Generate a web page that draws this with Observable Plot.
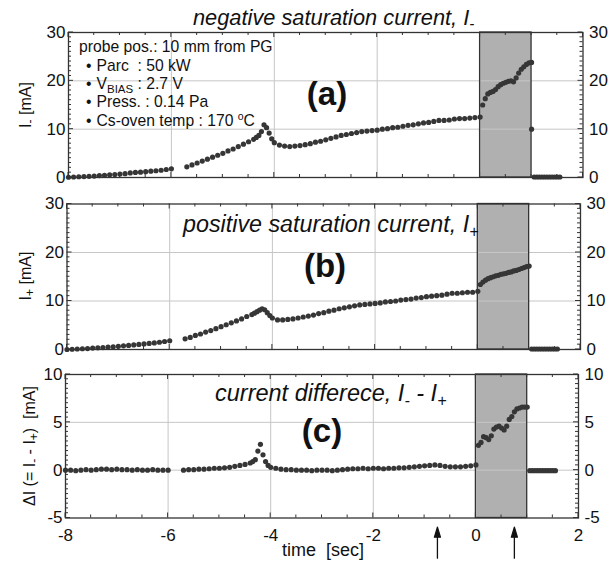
<!DOCTYPE html>
<html><head><meta charset="utf-8">
<script src="https://cdn.jsdelivr.net/npm/d3@7"></script>
<script src="https://cdn.jsdelivr.net/npm/@observablehq/plot@0.6"></script>
<style>
html,body{margin:0;padding:0;background:#fff;}
#chart{position:relative;width:612px;height:561px;overflow:hidden;font-family:"Liberation Sans",Arial,Helvetica,sans-serif;}
#chart svg.panel{position:absolute;left:0;}
#overlay{position:absolute;left:0;top:0;pointer-events:none;}
</style></head><body><div id="chart"></div>
<script>
// time [sec]
const time = [
 -8.0,-7.9,-7.8,-7.7,-7.6,-7.5,-7.4,-7.3,-7.2,-7.1,-7.0,-6.9,-6.8,-6.7,-6.6,-6.5,-6.4,-6.3,-6.2,-6.1,-6.0,
 -5.7,-5.6,-5.5,-5.4,-5.3,-5.2,-5.1,-5.0,-4.9,-4.8,-4.7,-4.6,-4.5,-4.4,-4.35,-4.3,-4.25,-4.2,-4.15,-4.1,-4.05,-4.0,
 -3.9,-3.8,-3.7,-3.6,-3.5,-3.4,-3.3,-3.2,-3.1,-3.0,-2.9,-2.8,-2.7,-2.6,-2.5,-2.4,-2.3,-2.2,-2.1,-2.0,
 -1.9,-1.8,-1.7,-1.6,-1.5,-1.4,-1.3,-1.2,-1.1,-1.0,-0.9,-0.8,-0.7,-0.6,-0.5,-0.4,-0.3,-0.2,-0.1,0.0,
 0.05,0.1,0.15,0.2,0.25,0.3,0.35,0.4,0.45,0.5,0.55,0.6,0.65,0.7,0.75,0.8,0.85,0.9,0.95,1.0,
 1.0,
 1.05,1.1,1.15,1.2,1.25,1.3,1.35,1.4,1.45,1.5,1.55
];
// negative saturation current I- [mA]
const iNeg = [
 0.05,0.1,0.15,0.2,0.25,0.3,0.4,0.45,0.55,0.6,0.7,0.8,0.95,1.05,1.1,1.2,1.3,1.4,1.5,1.65,1.8,
 2.2,2.6,3.0,3.4,3.8,4.2,4.6,5.0,5.5,5.9,6.4,6.9,7.4,7.9,8.3,8.7,9.5,10.9,10.3,9.2,8.0,7.2,
 6.7,6.5,6.4,6.5,6.6,6.8,7.0,7.3,7.5,7.8,8.1,8.4,8.7,8.9,9.1,9.3,9.5,9.6,9.7,9.8,
 10.0,10.1,10.3,10.4,10.6,10.8,10.9,11.1,11.3,11.4,11.6,11.8,11.8,11.9,12.1,12.2,12.2,12.3,12.4,12.5,
 15.0,16.3,17.3,17.6,17.8,18.2,18.8,19.2,19.5,19.7,19.9,20.0,19.8,20.6,21.6,22.4,22.9,23.4,23.7,23.8,
 10.0,
 0.1,0.1,0.1,0.1,0.1,0.1,0.1,0.1,0.1,0.1,0.1
];
// positive saturation current I+ [mA]
const iPos = [
 0.0,0.05,0.1,0.15,0.2,0.3,0.35,0.4,0.5,0.55,0.65,0.75,0.85,0.95,1.05,1.15,1.25,1.35,1.5,1.65,1.8,
 2.2,2.5,2.9,3.2,3.6,3.9,4.3,4.7,5.1,5.5,5.9,6.3,6.8,7.2,7.5,7.8,8.1,8.4,8.2,7.6,7.0,6.5,
 6.1,6.1,6.2,6.3,6.5,6.7,6.9,7.1,7.4,7.6,7.9,8.1,8.4,8.6,8.8,9.0,9.2,9.3,9.4,9.5,
 9.6,9.8,9.9,10.0,10.2,10.3,10.4,10.6,10.7,10.9,11.0,11.1,11.2,11.4,11.6,11.6,11.7,11.8,11.8,12.0,
 13.4,13.9,14.3,14.6,14.8,15.0,15.2,15.3,15.5,15.6,15.7,15.9,16.0,16.2,16.3,16.5,16.7,16.9,17.1,17.2,
 null,
 0.1,0.1,0.1,0.1,0.1,0.1,0.1,0.1,0.1,0.1,0.1
];
// current difference dI = I- - I+ [mA]
const dI = [
 0.0,0.0,-0.05,0.0,0.05,0.0,0.05,0.1,0.1,0.05,0.1,0.05,0.05,0.0,0.05,0.0,0.0,0.05,0.0,0.0,0.0,
 0.0,0.05,0.05,0.1,0.1,0.15,0.2,0.2,0.25,0.3,0.4,0.5,0.6,0.75,0.9,1.1,2.0,2.7,1.6,0.9,0.5,0.3,
 0.2,0.1,0.05,0.05,0.0,0.0,0.0,-0.05,0.0,0.0,0.0,-0.05,0.0,0.05,0.1,0.15,0.15,0.2,0.15,0.2,
 0.2,0.15,0.2,0.2,0.25,0.25,0.3,0.35,0.4,0.45,0.5,0.55,0.5,0.4,0.35,0.35,0.35,0.4,0.45,0.55,
 2.6,2.9,3.5,3.4,3.2,3.6,4.3,4.5,4.6,4.4,4.2,4.6,5.3,5.6,6.1,6.4,6.5,6.6,6.6,6.6,
 null,
 -0.05,-0.05,-0.05,-0.05,-0.05,-0.05,-0.05,-0.05,-0.05,-0.05,-0.05
];
const shadeInterval = [[0, 1]];
const arrowTimes = [-0.75, 0.75];
const xTicks = [-8, -6, -4, -2, 0, 2];
const yTicksI = [0, 10, 20, 30];
const yTicksD = [-5, 0, 5, 10];

const FONT = '"Liberation Sans", Arial, Helvetica, sans-serif';
const chart = document.getElementById("chart");

const solidArrow = {
  draw(ctx, l) {
    ctx.moveTo(0, 0); ctx.lineTo(0, -l + 8);
    ctx.moveTo(-3, -l + 10); ctx.lineTo(0, -l); ctx.lineTo(3, -l + 10); ctx.closePath();
  }
};

// inward tick marks on all four sides, drawn through the plot's own scales
function inwardTicks(xMinor, xMajor, yMinor, yMajor) {
  return (index, scales, values, dims) => {
    const {x, y} = scales;
    const left = dims.marginLeft, right = dims.width - dims.marginRight;
    const top = dims.marginTop, bottom = dims.height - dims.marginBottom;
    const g = d3.create("svg:g").attr("stroke", "#333").attr("stroke-width", 1);
    for (const t of xMinor) {
      const len = xMajor.includes(t) ? 5 : 3, px = x(t);
      g.append("line").attr("x1", px).attr("x2", px).attr("y1", bottom).attr("y2", bottom - len);
      g.append("line").attr("x1", px).attr("x2", px).attr("y1", top).attr("y2", top + len);
    }
    for (const v of yMinor) {
      const len = yMajor.includes(v) ? 5 : 3, py = y(v);
      g.append("line").attr("y1", py).attr("y2", py).attr("x1", left).attr("x2", left + len);
      g.append("line").attr("y1", py).attr("y2", py).attr("x1", right).attr("x2", right - len);
    }
    return g.node();
  };
}

function panel({values, yDomain, yTicks, yMinorStep, top, height, mt, mb, ml, mr, bottomLabels = false, extra = []}) {
  const data = time.map((t, i) => ({t, v: values[i]})).filter(d => d.v != null);
  const [y0, y1] = yDomain;
  const xMinor = d3.range(-8, 2.0001, 0.5).map(d => +d.toFixed(2));
  const yMinor = d3.range(y0, y1 + 1e-9, yMinorStep).map(d => +d.toFixed(2));
  const fmt = d => String(d);
  const marks = [
    Plot.rect(shadeInterval, {x1: d => d[0], x2: d => d[1], y1: y0, y2: y1, fill: "#b0b0b0"}),
    Plot.gridX(xTicks.slice(1, -1), {stroke: "#c6c6c6", strokeOpacity: 1, strokeWidth: 1}),
    Plot.gridY(yTicks.slice(1, -1), {stroke: "#c6c6c6", strokeOpacity: 1, strokeWidth: 1}),
    Plot.rect(shadeInterval, {x1: d => d[0], x2: d => d[1], y1: y0, y2: y1, fill: "none", stroke: "#333", strokeWidth: 1.3}),
    Plot.dot(data, {x: "t", y: "v", r: 2.6, fill: "#363636"}),
    Plot.frame({stroke: "#333", strokeWidth: 1.3}),
    inwardTicks(xMinor, xTicks, yMinor, yTicks),
    Plot.axisY(yTicks, {anchor: "left", tickSize: 0, tickPadding: 3, tickFormat: fmt, label: null, fontSize: 17, fill: "#111"}),
    Plot.axisY(yTicks, {anchor: "right", tickSize: 0, tickPadding: 6, tickFormat: fmt, label: null, fontSize: 17, fill: "#111"})
  ];
  if (bottomLabels) {
    marks.push(Plot.axisX(xTicks, {anchor: "bottom", tickSize: 0, tickPadding: 11, tickFormat: fmt, label: null, fontSize: 17, fill: "#111"}));
  }
  marks.push(...extra);
  const p = Plot.plot({
    width: 612, height,
    marginTop: mt, marginBottom: mb, marginLeft: ml, marginRight: mr,
    x: {domain: [-8, 2], axis: null},
    y: {domain: yDomain, axis: null},
    style: {fontFamily: FONT, fontSize: "17px", background: "transparent", overflow: "visible", color: "#111"},
    marks
  });
  p.classList.add("panel");
  p.style.top = top + "px";
  chart.appendChild(p);
}

panel({values: iNeg, yDomain: [0, 30], yTicks: yTicksI, yMinorStep: 1, top: 0, height: 190, mt: 32, mb: 13, ml: 68, mr: 29.5});
panel({values: iPos, yDomain: [0, 30], yTicks: yTicksI, yMinorStep: 1, top: 190, height: 170, mt: 13.5, mb: 11, ml: 66.5, mr: 32});
panel({values: dI, yDomain: [-5, 10], yTicks: yTicksD, yMinorStep: 0.5, top: 360, height: 201, mt: 14, mb: 43.5, ml: 65, mr: 34, bottomLabels: true,
  extra: [
    Plot.vector(arrowTimes, {x: d => d, y: -9.2, length: 31, rotate: 0, anchor: "start", shape: solidArrow, stroke: "#111", fill: "#111", strokeWidth: 1.3})
  ]});

const overlay = `
<svg id="overlay" width="612" height="561" font-family='${FONT}' fill="#111" xml:space="preserve">
  <text x="193" y="25" font-size="21.8" font-style="italic">negative saturation current, I<tspan dy="4" font-size="15">-</tspan></text>
  <text x="183" y="231.5" font-size="23.3" font-style="italic">positive saturation current, I<tspan dy="5" font-size="16">+</tspan></text>
  <text x="215" y="401" font-size="23.5" font-style="italic">current differece, I<tspan dy="5" font-size="16">-</tspan><tspan dy="-5"> - I</tspan><tspan dy="5" font-size="16">+</tspan></text>

  <text x="327" y="105" font-size="33" font-weight="bold" text-anchor="middle">(a)</text>
  <text x="325" y="276.5" font-size="33" font-weight="bold" text-anchor="middle">(b)</text>
  <text x="322" y="442" font-size="33" font-weight="bold" text-anchor="middle">(c)</text>

  <text x="79" y="52" font-size="15.7">probe pos.: 10 mm from PG</text>
  <text x="86" y="70.5" font-size="15.7">•<tspan x="96.5">Parc&#160; : 50 kW</tspan></text>
  <text x="86" y="88.5" font-size="15.7">•<tspan x="96.5">V</tspan><tspan dy="4" font-size="11.5">BIAS</tspan><tspan dy="-4"> : 2.7 V</tspan></text>
  <text x="86" y="107" font-size="15.7">•<tspan x="96.5">Press. : 0.14 Pa</tspan></text>
  <text x="86" y="126" font-size="15.7">•<tspan x="96.5">Cs-oven temp : 170 </tspan><tspan dy="-6" font-size="10.5">o</tspan><tspan dy="6">C</tspan></text>

  <text transform="translate(31,105) rotate(-90)" font-size="16" text-anchor="middle">I<tspan dy="3" font-size="12">-</tspan><tspan dy="-3"> [mA]</tspan></text>
  <text transform="translate(31,276) rotate(-90)" font-size="16" text-anchor="middle">I<tspan dy="3" font-size="12">+</tspan><tspan dy="-3"> [mA]</tspan></text>
  <text transform="translate(35,446) rotate(-90)" font-size="16" text-anchor="middle">ΔI (= I<tspan dy="3" font-size="12">-</tspan><tspan dy="-3"> - I</tspan><tspan dy="3" font-size="12">+</tspan><tspan dy="-3">)&#160; [mA]</tspan></text>

  <text x="323" y="556" font-size="18" text-anchor="middle">time&#160; [sec]</text>
</svg>`;
chart.insertAdjacentHTML("beforeend", overlay);
</script>
</body></html>
